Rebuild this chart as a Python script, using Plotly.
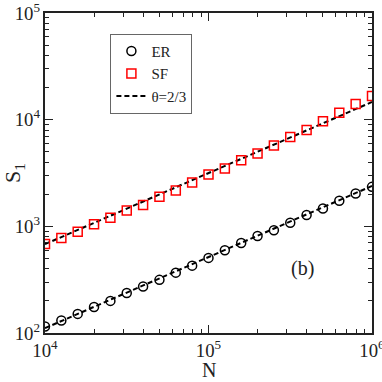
import plotly.graph_objects as go

# Data
N = [10 ** (4 + 0.1 * i) for i in range(21)]
S1_ER = [115, 131, 151, 175, 200, 237, 273, 315, 368, 428, 506, 597, 698, 813,
         919, 1082, 1276, 1472, 1734, 2032, 2344]
S1_SF = [684, 778, 891, 1045, 1203, 1410, 1581, 1891, 2170, 2575, 3062, 3484,
         4165, 4813, 5711, 6877, 7994, 9642, 11610, 13990, 16630]
guide_N = [1e4, 1e6]
guide_ER = [111, 2390]
guide_SF = [680, 14650]

FONT = "Liberation Serif, Times New Roman, serif"

fig = go.Figure()
fig.add_trace(go.Scatter(x=guide_N, y=guide_ER, mode="lines", name="θ=2/3",
                         line=dict(color="black", width=2, dash="5px,3px"),
                         showlegend=False))
fig.add_trace(go.Scatter(x=guide_N, y=guide_SF, mode="lines", name="θ=2/3",
                         line=dict(color="black", width=2, dash="5px,3px"),
                         showlegend=False))
fig.add_trace(go.Scatter(x=N, y=S1_ER, mode="markers", name="ER",
                         marker=dict(symbol="circle-open", size=9, color="black",
                                     line=dict(width=1.5, color="black"))))
fig.add_trace(go.Scatter(x=N, y=S1_SF, mode="markers", name="SF",
                         marker=dict(symbol="square-open", size=9, color="red",
                                     line=dict(width=1.5, color="red"))))
fig.add_trace(go.Scatter(x=[None], y=[None], mode="lines", name="θ=2/3",
                         line=dict(color="black", width=2, dash="5px,3px")))

axis_common = dict(
    type="log", showgrid=False, zeroline=False, automargin=False,
    showline=True, linecolor="#222", linewidth=2, mirror="allticks",
    ticks="inside", ticklen=8, tickwidth=1, tickcolor="#222",
    exponentformat="power", dtick=1, ticklabeloverflow="allow",
    tickfont=dict(family=FONT, size=15, color="#222"),
    minor=dict(ticks="inside", ticklen=4, tickwidth=1, tickcolor="#222", showgrid=False),
)

fig.update_layout(
    width=382, height=382,
    margin=dict(l=45, r=10, t=13, b=49),
    paper_bgcolor="white", plot_bgcolor="white",
    font=dict(family=FONT, color="#222"),
    xaxis=dict(range=[4, 6], **axis_common),
    yaxis=dict(range=[2, 5], title=dict(text="S<sub>1</sub>", font=dict(family=FONT, size=22)),
               **axis_common),
    legend=dict(x=0.2, y=0.935, xanchor="left", yanchor="top",
                bordercolor="#666", borderwidth=1, bgcolor="white",
                font=dict(family=FONT, size=15, color="#222"),
                itemwidth=30, tracegroupgap=0),
    annotations=[
        dict(text="(b)", x=0.83, y=0.16, xref="paper", yref="paper",
             showarrow=False, font=dict(family=FONT, size=20, color="#222")),
        dict(text="N", x=0.5, y=-0.115, xref="paper", yref="paper", yanchor="middle",
             showarrow=False, font=dict(family=FONT, size=20, color="#222")),
    ],
)

fig.write_html("out.html", config={"displayModeBar": False},
               post_script="document.body.style.margin='0';document.body.style.overflow='hidden';")
